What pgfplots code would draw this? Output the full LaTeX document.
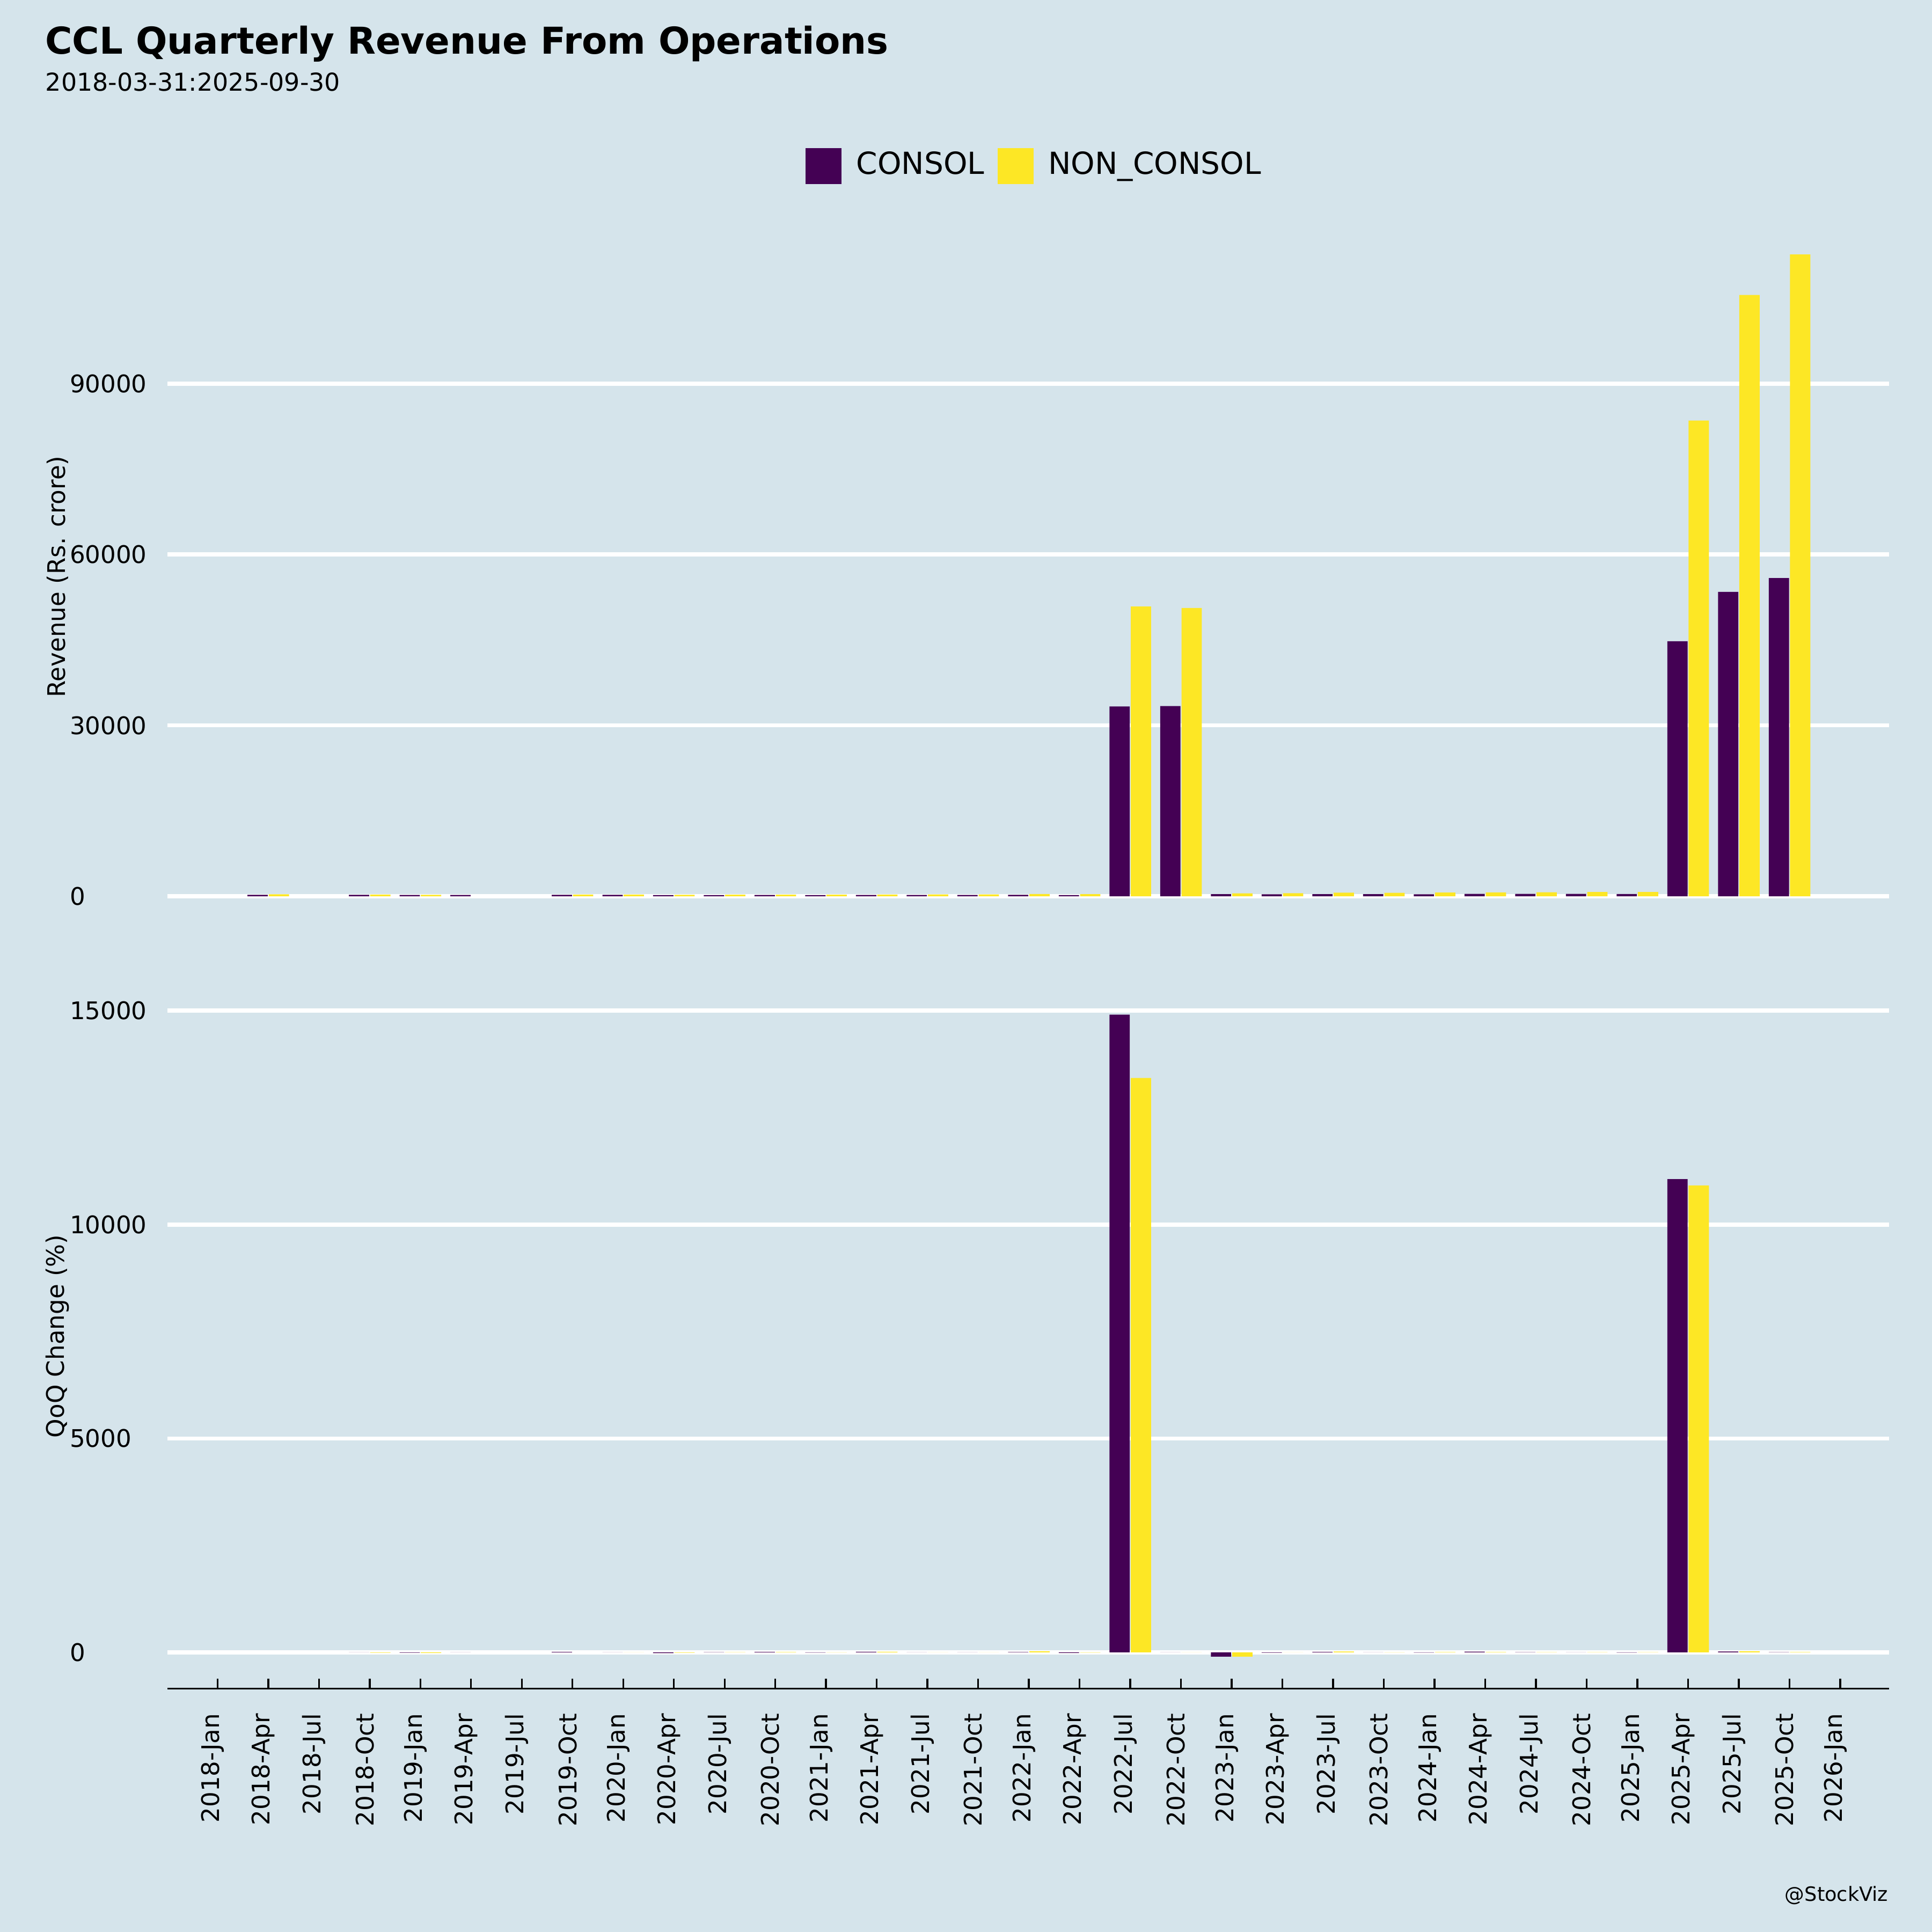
\documentclass[border=0pt]{standalone}
\usepackage{fontspec}
\setmainfont{DejaVu Sans}
\usepackage{pgfplots}
\pgfplotsset{compat=1.18}

\definecolor{bgc}{HTML}{D5E4EB}
\definecolor{vpurple}{HTML}{440154}
\definecolor{vyellow}{HTML}{FDE725}

% shared look of the two panels
\pgfplotsset{
  panel/.style={
    scale only axis, anchor=south west,
    width=419.1pt, height=171.9pt,
    xmin=-0.985, xmax=32.96,
    ybar, bar width=0.4,
    ymajorgrids, grid style={white, line width=1pt},
    ytick style={draw=none},
    tick label style={font=\fontsize{5.9}{7}\selectfont},
    /pgf/number format/assume math mode=true,
    /pgf/number format/1000 sep={},
    scaled y ticks=false,
    yticklabel style={anchor=west, xshift=-24pt, inner sep=0pt},
  },
}

\begin{document}
\begin{tikzpicture}[x=1pt,y=1pt]
\fill[bgc] (0,0) rectangle (470.4,470.4);
\path[use as bounding box] (0,0) rectangle (470.4,470.4);

\node[anchor=base west, inner sep=0pt, font=\bfseries\fontsize{9}{10}\selectfont] at (10.8,457.3) {CCL Quarterly Revenue From Operations};
\node[anchor=base west, inner sep=0pt, font=\fontsize{6}{7}\selectfont] at (10.9,448.2) {2018-03-31:2025-09-30};

% revenue
\begin{axis}[panel, at={(40.8pt,244.35pt)},
  ymin=-5633, ymax=118293, ytick={0,30000,60000,90000},
  xtick=\empty, axis line style={draw=none},
  legend columns=2,
  legend image code/.code={\fill[#1] (0pt,-4.35pt) rectangle (8.7pt,4.35pt);},
  legend style={at={(0.503,1.0796)}, anchor=center, draw=none, fill=none,
    inner sep=0pt, font=\fontsize{7.4}{9}\selectfont, nodes={inner sep=0pt},
    /tikz/every odd column/.append style={column sep=3.6pt},
    /tikz/every even column/.append style={column sep=3.3pt}},
]
\addplot[fill=vpurple, draw=none, bar shift=-0.21] coordinates {
  (1,250) (3,252) (4,232) (5,230) (7,255) (8,255) (9,210) (10,215)
  (11,236) (12,218) (13,245) (14,245) (15,246) (16,265) (17,222)
  (18,33315) (19,33390) (20,376) (21,345) (22,382) (23,380) (24,362)
  (25,415) (26,432) (27,430) (28,401) (29,44760) (30,53440) (31,55860)
};
\addlegendentry{CONSOL}
\addplot[fill=vyellow, draw=none, bar shift=0.21] coordinates {
  (1,345) (3,312) (4,266) (7,300) (8,302) (9,272) (10,280)
  (11,295) (12,282) (13,318) (14,320) (15,325) (16,405) (17,376)
  (18,50870) (19,50600) (20,530) (21,532) (22,640) (23,615) (24,650)
  (25,690) (26,715) (27,745) (28,758) (29,83500) (30,105550) (31,112660)
};
\addlegendentry{NON\_CONSOL}
\end{axis}

% QoQ change
\begin{axis}[panel, at={(40.8pt,59.25pt)},
  ymin=-849, ymax=15657, ytick={0,5000,10000,15000},
  xtick={0,...,32},
  xticklabels={2018-Jan,2018-Apr,2018-Jul,2018-Oct,2019-Jan,2019-Apr,2019-Jul,2019-Oct,
    2020-Jan,2020-Apr,2020-Jul,2020-Oct,2021-Jan,2021-Apr,2021-Jul,2021-Oct,
    2022-Jan,2022-Apr,2022-Jul,2022-Oct,2023-Jan,2023-Apr,2023-Jul,2023-Oct,
    2024-Jan,2024-Apr,2024-Jul,2024-Oct,2025-Jan,2025-Apr,2025-Jul,2025-Oct,2026-Jan},
  axis x line*=bottom, axis y line*=left,
  y axis line style={draw=none},
  x axis line style={black, line width=0.5pt},
  xtick align=inside, major tick length=2.4pt,
  xtick style={black, line width=0.45pt},
  xticklabel style={yshift=-5.85pt, xshift=-1.2pt, rotate=90, anchor=east, inner sep=0pt},
]
\addplot[fill=vpurple, draw=none, bar shift=-0.21] coordinates {
  (3,0.8) (4,-7.9) (5,-0.9) (7,10.9) (8,0.0) (9,-17.6) (10,2.4)
  (11,9.8) (12,-7.6) (13,12.4) (14,0.0) (15,0.4) (16,7.7) (17,-16.2)
  (18,14907) (19,0.2) (20,-98.9) (21,-8.2) (22,10.7) (23,-0.5) (24,-4.7)
  (25,14.6) (26,4.1) (27,-0.5) (28,-6.7) (29,11062) (30,19.4) (31,4.5)
};
\addplot[fill=vyellow, draw=none, bar shift=0.21] coordinates {
  (3,-9.6) (4,-14.7) (8,0.7) (9,-9.9) (10,2.9)
  (11,5.4) (12,-4.4) (13,12.8) (14,0.6) (15,1.6) (16,24.6) (17,-7.2)
  (18,13429) (19,-0.5) (20,-99.0) (21,0.4) (22,20.3) (23,-3.9) (24,5.7)
  (25,6.2) (26,3.6) (27,4.2) (28,1.7) (29,10916) (30,26.4) (31,6.7)
};
\end{axis}

\node[rotate=90, font=\fontsize{5.9}{7}\selectfont] at (14,330) {Revenue (Rs. crore)};
\node[rotate=90, font=\fontsize{5.9}{7}\selectfont] at (14,145.05) {QoQ Change (\%)};
\node[anchor=base east, inner sep=0pt, font=\fontsize{4.8}{6}\selectfont] at (459.9,7.5) {@StockViz};
\end{tikzpicture}
\end{document}
